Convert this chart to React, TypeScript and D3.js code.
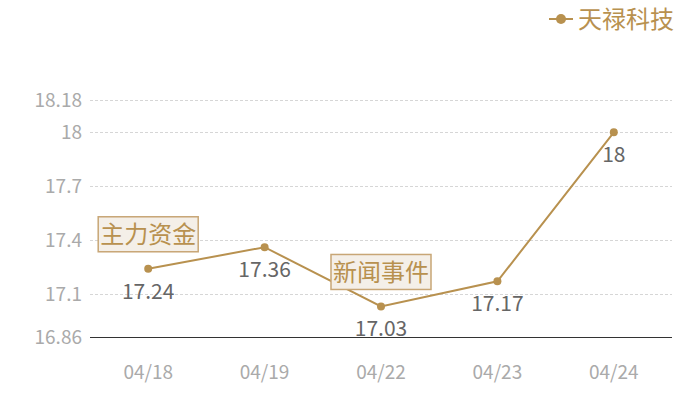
import * as d3 from 'd3';

const dates = ['04/18', '04/19', '04/22', '04/23', '04/24'];
const prices = [17.24, 17.36, 17.03, 17.17, 18];
const yTicks = [16.86, 17.1, 17.4, 17.7, 18, 18.18];
const seriesName = '天禄科技';
const notes = [
  { date: '04/18', text: '主力资金' },
  { date: '04/22', text: '新闻事件' },
];

const W = 700;
const H = 400;
const margin = { top: 100, right: 28, bottom: 63, left: 90 };
const gold = '#b8914f';
const font = '"Noto Sans CJK SC", "Noto Sans", sans-serif';

export default function App(): JSX.Element {
  const x = d3
    .scaleBand<string>()
    .domain(dates)
    .range([margin.left, W - margin.right]);
  const y = d3
    .scaleLinear()
    .domain([16.86, 18.18])
    .range([H - margin.bottom, margin.top]);
  const cx = (d: string) => (x(d) as number) + x.bandwidth() / 2;
  const crisp = (v: number) => Math.round(v) + 0.5;

  const pts = dates.map((d, i) => ({ d, v: prices[i] }));
  const line = d3
    .line<{ d: string; v: number }>()
    .x((p) => cx(p.d))
    .y((p) => y(p.v));

  return (
    <svg
      width={W}
      height={H}
      style={{ position: 'absolute', left: 0, top: 0, fontFamily: font, background: '#fff' }}
    >
      {/* grid + y labels */}
      {yTicks.map((t) => (
        <g key={t}>
          {t !== 16.86 && (
            <line
              x1={margin.left}
              x2={W - margin.right}
              y1={crisp(y(t))}
              y2={crisp(y(t))}
              stroke="#d6d6d6"
              strokeDasharray="3,2"
            />
          )}
          <text
            x={margin.left - 8}
            y={y(t)}
            dy="0.36em"
            textAnchor="end"
            fontSize={19}
            fill="#aaaaaa"
          >
            {t}
          </text>
        </g>
      ))}
      <line
        x1={margin.left}
        x2={W - margin.right}
        y1={crisp(y(16.86))}
        y2={crisp(y(16.86))}
        stroke="#333"
        strokeWidth={1}
      />
      {/* x labels */}
      {dates.map((d) => (
        <text key={d} x={cx(d)} y={372} dy="0.36em" textAnchor="middle" fontSize={19} fill="#aaaaaa">
          {d}
        </text>
      ))}
      {/* series */}
      <path d={line(pts) ?? ''} fill="none" stroke={gold} strokeWidth={2} />
      {pts.map((p) => (
        <g key={p.d}>
          <circle cx={cx(p.d)} cy={y(p.v)} r={4} fill={gold} />
          <text
            x={cx(p.d)}
            y={y(p.v) + 30}
            textAnchor="middle"
            fontSize={21}
            fill="#666666"
          >
            {p.v}
          </text>
        </g>
      ))}
      {/* annotation boxes */}
      {notes.map((n) => {
        const v = prices[dates.indexOf(n.date)];
        const bx = cx(n.date);
        const by = y(v) - 17;
        return (
          <g key={n.text}>
            <rect
              x={bx - 50}
              y={by - 35}
              width={100}
              height={35}
              fill="#f4efe8"
              stroke="#c8a676"
              strokeWidth={1.5}
            />
            <text x={bx} y={by - 17.5} dy="0.36em" textAnchor="middle" fontSize={24} fill={gold}>
              {n.text}
            </text>
          </g>
        );
      })}
      {/* legend */}
      <g transform="translate(549,19)">
        <line x1={0} x2={24} y1={0} y2={0} stroke={gold} strokeWidth={2} />
        <circle cx={12} cy={0} r={5} fill={gold} />
        <text x={29} y={0} dy="0.36em" fontSize={24} fill={gold}>
          {seriesName}
        </text>
      </g>
    </svg>
  );
}
